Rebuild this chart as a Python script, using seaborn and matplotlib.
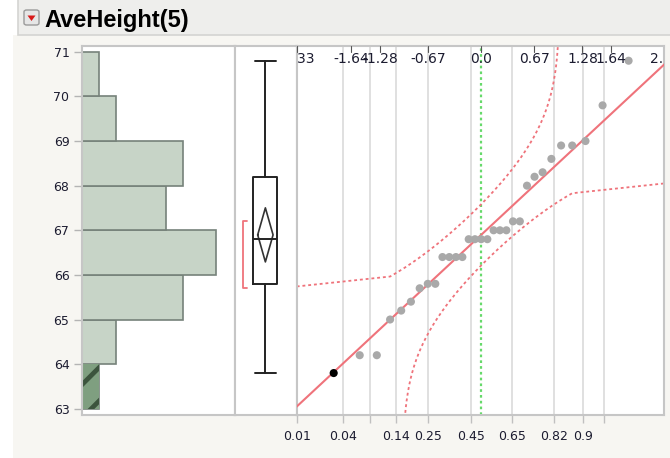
import numpy as np
import pandas as pd
import seaborn as sns
import matplotlib
matplotlib.use("Agg")
import matplotlib.pyplot as plt
from matplotlib.patches import Rectangle, FancyBboxPatch, Polygon
from statistics import NormalDist

# ---- data -------------------------------------------------------------
heights = [63.8, 64.2, 64.2, 65.0, 65.2, 65.4, 65.7, 65.8, 65.8,
           66.4, 66.4, 66.4, 66.4, 66.8, 66.8, 66.8, 66.8,
           67.0, 67.0, 67.0, 67.2, 67.2, 68.0, 68.2, 68.3, 68.6,
           68.9, 68.9, 69.0, 69.8, 70.8]
selected = [63.8]
bin_edges = [63, 64, 65, 66, 67, 68, 69, 70, 71]
y_ticks = [63, 64, 65, 66, 67, 68, 69, 70, 71]
prob_ticks = [0.01, 0.04, 0.08, 0.14, 0.25, 0.45, 0.65, 0.82, 0.9, 0.94]
prob_labels = ["0.01", "0.04", "", "0.14", "0.25", "0.45", "0.65", "0.82", "0.9", ""]
quantile_ticks = [-2.33, -1.64, -1.28, -0.67, 0.0, 0.67, 1.28, 1.64, 2.33]
quantile_labels = ["-2.33", "-1.64", "-1.28", "-0.67", "0.0", "0.67", "1.28", "1.64", "2.33"]
t_crit = 2.042          # t(0.975, df=30)
band_d = 0.161          # Lilliefors band half-width in probability
band_knee = 0.125       # probability where band switches to straight tail
band_tail = 0.70        # tail offset of the band, in SD units

# ---- summary statistics ----------------------------------------------
vals = np.sort(np.array(heights))
n = len(vals)
mean = vals.mean()
sd = vals.std(ddof=1)
q1, med, q3 = np.percentile(vals, [25, 50, 75], method="weibull")
iqr = q3 - q1
whislo = vals[vals >= q1 - 1.5 * iqr].min()
whishi = vals[vals <= q3 + 1.5 * iqr].max()
ci = t_crit * sd / np.sqrt(n)
h = n // 2 + 1
spans = vals[h - 1:] - vals[:n - h + 1]
k = int(np.argmin(spans))
short_lo, short_hi = vals[k], vals[k + h - 1]

nd = NormalDist()
zq = np.array([nd.inv_cdf(i / (n + 1)) for i in range(1, n + 1)])
df = pd.DataFrame({"z": zq, "h": vals, "sel": np.isin(vals, selected)})

# ---- style -----------------------------------------------------------
sns.set_theme(style="white")
plt.rcParams["font.family"] = ["DejaVu Sans"]
plt.rcParams["hatch.linewidth"] = 3.4
tick_col = "#1c1c30"
spine_col = "#c6c6c6"
red = "#ef737b"

W, H = 670, 458
fig = plt.figure(figsize=(W / 100, H / 100), dpi=100)
fig.patch.set_facecolor("white")

def fx(px):
    return px / W

def fy(py):
    return 1 - py / H

# background panels (kept behind the axes)
fig.patches.append(Rectangle((fx(13), 0), 1, fy(35), transform=fig.transFigure,
                             facecolor="#f7f6f2", edgecolor="none", zorder=-10))
fig.patches.append(Rectangle((fx(18), fy(34.5)), 1, 1, transform=fig.transFigure,
                             facecolor="#eeeeec", edgecolor="#d4d4d2", lw=1.2, zorder=-9))
fig.patches.append(FancyBboxPatch((fx(24), fy(25)), fx(15), 15 / H,
                                  boxstyle="round,pad=0,rounding_size=0.004",
                                  transform=fig.transFigure, facecolor="#e6e6e6",
                                  edgecolor="#9a9a9a", lw=1.0, zorder=1))
fig.patches.append(Polygon([(fx(27.5), fy(15.5)), (fx(35.5), fy(15.5)), (fx(31.5), fy(21))],
                           closed=True, transform=fig.transFigure,
                           facecolor="#d81a1a", edgecolor="none", zorder=2))
fig.text(fx(44), fy(26.5), "AveHeight(5)", fontsize=17, fontweight="bold",
         family=["Liberation Sans", "DejaVu Sans"], va="baseline", ha="left", color="black")

top_px, bot_px = 46, 415
ax_b = fy(bot_px)
ax_h = (bot_px - top_px) / H
ylim = (62.86, 71.13)

axh = fig.add_axes([fx(82), ax_b, fx(235) - fx(82), ax_h])
axb = fig.add_axes([fx(235), ax_b, fx(297) - fx(235), ax_h])
axq = fig.add_axes([fx(297), ax_b, fx(664) - fx(297), ax_h])

for a in (axh, axb, axq):
    a.set_facecolor("white")
    a.set_ylim(*ylim)
    for s in a.spines.values():
        s.set_color(spine_col)
        s.set_linewidth(1.5)

# ---- histogram -------------------------------------------------------
sns.histplot(y=heights, bins=bin_edges, ax=axh, color="#c7d4c7",
             edgecolor="#76827a", linewidth=1.2, alpha=1)
sns.histplot(y=selected, bins=bin_edges, ax=axh, color="#7f9f80",
             edgecolor="#3c543d", hatch="/", linewidth=0, alpha=1)
axh.set_xlim(0, 9.13)
axh.set_ylim(*ylim)
axh.set_xticks([])
axh.set_yticks(y_ticks)
axh.set_yticklabels([str(t) for t in y_ticks])
axh.tick_params(axis="y", left=True, length=6, width=1, color="#b4b4b4",
                pad=3, labelsize=9, labelcolor=tick_col)
axh.set_xlabel("")
axh.set_ylabel("")

# ---- box plot with mean diamond and shortest half ---------------------
cx = 0.49
axb.bxp([{"med": med, "q1": q1, "q3": q3, "whislo": whislo, "whishi": whishi,
          "fliers": []}], positions=[cx], widths=0.39, capwidths=0.34,
        showfliers=False,
        boxprops=dict(color="#222222", lw=1.4),
        medianprops=dict(color="#222222", lw=1.4),
        whiskerprops=dict(color="#222222", lw=1.4),
        capprops=dict(color="#222222", lw=1.4))
dw = 0.124
axb.plot([cx - dw, cx, cx + dw, cx, cx - dw],
         [mean, mean + ci, mean, mean - ci, mean], color="#333333", lw=1.2)
bx0, bx1 = 0.13, 0.19
axb.plot([bx1, bx0, bx0, bx1], [short_hi, short_hi, short_lo, short_lo],
         color=red, lw=1.3)
axb.set_xlim(0, 1)
axb.set_ylim(*ylim)
axb.set_xticks([])
axb.set_yticks([])

# ---- normal quantile plot --------------------------------------------
zlim = (-2.32, 2.31)
grid_z = [nd.inv_cdf(p) for p in prob_ticks]
for gz in grid_z[1:]:
    axq.axvline(gz, color="#dadada", lw=1.2, zorder=0)
axq.axvline(0.0, color="#66d96a", lw=1.6, ls=(0, (1.2, 1.4)), zorder=1)

# Lilliefors confidence bands
p_up = np.linspace(band_knee, 1 - band_d - 1e-5, 300)
z_up = np.array([nd.inv_cdf(p) for p in p_up])
up = mean + sd * np.array([nd.inv_cdf(p + band_d) for p in p_up])
z_up = np.concatenate([[-2.33], z_up])
up = np.concatenate([[mean - band_tail * sd], up])
p_lo = np.linspace(band_d + 1e-5, 1 - band_knee, 300)
z_lo = np.array([nd.inv_cdf(p) for p in p_lo])
lo = mean + sd * np.array([nd.inv_cdf(p - band_d) for p in p_lo])
z_lo = np.concatenate([z_lo, [2.33]])
lo = np.concatenate([lo, [mean + band_tail * sd]])
axq.plot(z_up, up, color=red, lw=1.3, ls=(0, (1.6, 1.6)), zorder=2)
axq.plot(z_lo, lo, color=red, lw=1.3, ls=(0, (1.6, 1.6)), zorder=2)

# fitted normal line
zz = np.linspace(-2.5, 2.5, 50)
sns.lineplot(x=zz, y=mean + sd * zz, ax=axq, color=red, lw=1.5, zorder=3)

sns.scatterplot(data=df, x="z", y="h", hue="sel",
                palette={False: "#a9a9a9", True: "#000000"},
                s=34, edgecolor="none", legend=False, ax=axq, zorder=4)
axq.set_xlim(*zlim)
axq.set_ylim(*ylim)
axq.set_xlabel("")
axq.set_ylabel("")
axq.set_yticks([])
axq.set_xticks(grid_z)
axq.set_xticklabels(prob_labels)
axq.tick_params(axis="x", bottom=True, length=6, width=1, color="#c0c0c0",
                pad=5, labelsize=9, labelcolor=tick_col)

# top quantile scale drawn inside the frame
for zt, lab in zip(quantile_ticks, quantile_labels):
    axq.text(zt, 0.965, lab, transform=axq.get_xaxis_transform(), ha="center",
             va="center", fontsize=10, color=tick_col, clip_on=True, zorder=5)
    axq.plot([zt, zt], [1.0, 0.985], transform=axq.get_xaxis_transform(),
             color="#555555", lw=0.8, clip_on=True, zorder=5)

fig.savefig("out.png", dpi=100, facecolor=fig.get_facecolor())
